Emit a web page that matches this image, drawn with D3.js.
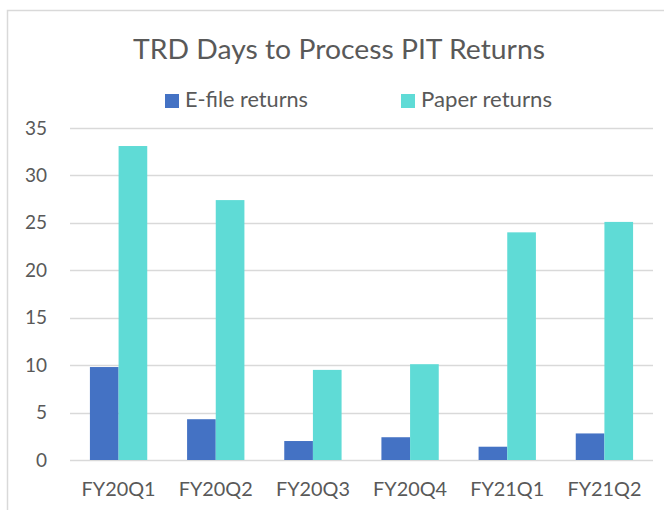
<!DOCTYPE html>
<html>
<head>
<meta charset="utf-8">
<script src="https://cdn.jsdelivr.net/npm/d3@7"></script>
<style>
  body { margin: 0; background: #fff; }
  text { font-family: Lato, "Open Sans", sans-serif; fill: #595959; }
</style>
</head>
<body>
<script>
// data
var categories = ["FY20Q1", "FY20Q2", "FY20Q3", "FY20Q4", "FY21Q1", "FY21Q2"];
var seriesNames = ["E-file returns", "Paper returns"];
var efile = [9.8, 4.3, 2.0, 2.4, 1.4, 2.8];
var paper = [33.1, 27.4, 9.5, 10.1, 24.0, 25.1];
var yTicks = [0, 5, 10, 15, 20, 25, 30, 35];

var colors = ["#4472c4", "#5fdbd6"];

var width = 664, height = 510;
var plot = { left: 70, right: 653, top: 128, bottom: 460 };

var svg = d3.select("body").append("svg")
            .attr("width", width)
            .attr("height", height);

// chart frame (runs off the right and bottom edges)
svg.append("rect")
   .attr("x", 7.5).attr("y", 10.5)
   .attr("width", 700).attr("height", 600)
   .attr("fill", "none")
   .attr("stroke", "#d9d9d9")
   .attr("stroke-width", 1.5);

var x = d3.scaleBand()
          .domain(categories)
          .range([plot.left, plot.right])
          .paddingInner(0.41)
          .paddingOuter(0.205);

var xSub = d3.scaleBand()
             .domain(seriesNames)
             .range([0, x.bandwidth()]);

var y = d3.scaleLinear()
          .domain([0, 35])
          .range([plot.bottom, plot.top]);

// gridlines
svg.append("g")
   .classed("grid", true)
   .selectAll("line")
   .data(yTicks)
   .enter()
     .append("line")
     .attr("x1", plot.left)
     .attr("x2", plot.right)
     .attr("y1", function(d) { return Math.round(y(d)) + 0.5; })
     .attr("y2", function(d) { return Math.round(y(d)) + 0.5; })
     .attr("stroke", "#d9d9d9")
     .attr("stroke-width", 1.5);

// y axis labels
var yAxis = d3.axisLeft(y).tickValues(yTicks).tickSize(0).tickPadding(0);
svg.append("g")
   .attr("transform", "translate(47,0)")
   .call(yAxis)
   .call(function(g) { g.select(".domain").remove(); })
   .selectAll("text")
     .style("font-family", "Lato, sans-serif")
     .style("font-size", "19px")
     .attr("fill", "#595959");

// bars
var rows = categories.map(function(c, i) {
    return { cat: c, values: [efile[i], paper[i]] };
});

var groups = svg.append("g")
   .classed("bars", true)
   .selectAll("g")
   .data(rows)
   .enter()
     .append("g")
     .attr("transform", function(d) { return "translate(" + x(d.cat) + ",0)"; });

groups.selectAll("rect")
   .data(function(d) { return d.values.map(function(v, j) { return { name: seriesNames[j], v: v, j: j }; }); })
   .enter()
     .append("rect")
     .attr("x", function(d) { return xSub(d.name); })
     .attr("width", xSub.bandwidth())
     .attr("y", function(d) { return y(d.v); })
     .attr("height", function(d) { return y(0) - y(d.v); })
     .attr("fill", function(d) { return colors[d.j]; });

// x axis labels
var xAxis = d3.axisBottom(x).tickSize(0).tickPadding(0);
svg.append("g")
   .attr("transform", "translate(0,482)")
   .call(xAxis)
   .call(function(g) { g.select(".domain").remove(); })
   .selectAll("text")
     .style("font-family", "Lato, sans-serif")
     .style("font-size", "19px")
     .attr("fill", "#595959")
     .attr("textLength", 74)
     .attr("lengthAdjust", "spacingAndGlyphs");

// title
svg.append("text")
   .attr("x", 339)
   .attr("y", 59)
   .attr("text-anchor", "middle")
   .style("font-size", "27px")
   .attr("textLength", 412)
   .attr("lengthAdjust", "spacingAndGlyphs")
   .text("TRD Days to Process PIT Returns");

// legend
var legendX = [165, 401];
var legendW = [123, 131];
var legend = svg.append("g").classed("legend", true);
legend.selectAll("rect")
   .data(seriesNames)
   .enter()
     .append("rect")
     .attr("x", function(d, i) { return legendX[i]; })
     .attr("y", 94)
     .attr("width", 14)
     .attr("height", 14)
     .attr("fill", function(d, i) { return colors[i]; });
legend.selectAll("text")
   .data(seriesNames)
   .enter()
     .append("text")
     .attr("x", function(d, i) { return legendX[i] + 20; })
     .attr("y", 107)
     .style("font-size", "21px")
     .attr("textLength", function(d, i) { return legendW[i]; })
     .attr("lengthAdjust", "spacingAndGlyphs")
     .text(function(d) { return d; });
</script>
</body>
</html>
